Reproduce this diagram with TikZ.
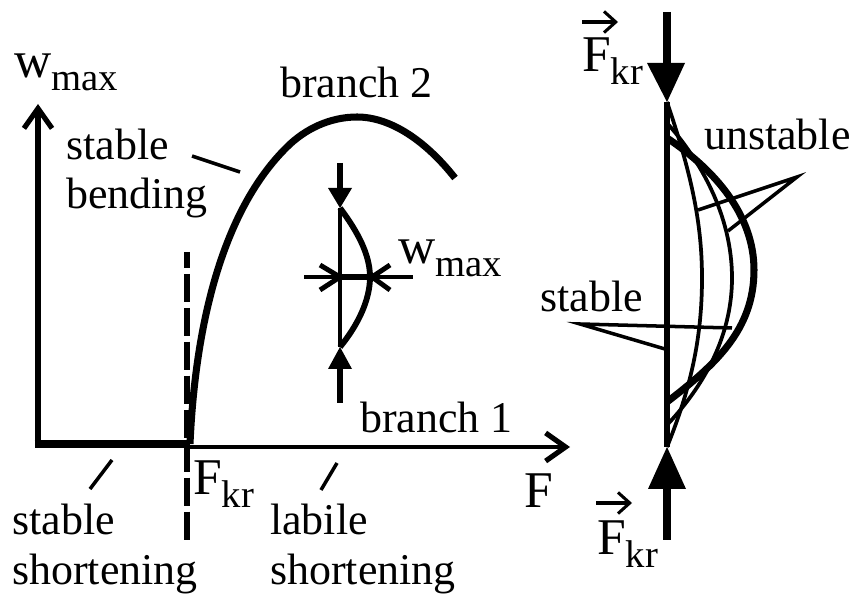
\documentclass[tikz,border=0pt]{standalone}
\usepackage{xcolor}
\usepackage{fontspec}
\setmainfont{Liberation Serif}
\usetikzlibrary{arrows.meta}
\newcommand{\lowtext}[1]{\raisebox{-11pt}{\fontsize{33}{33}\selectfont #1}}
\newcommand{\bigsym}[1]{{\fontsize{44}{44}\selectfont #1}}
\tikzset{
  lbl/.style={anchor=base west, inner sep=0pt, font=\fontsize{37.5}{37.5}\selectfont},
  leader/.style={line width=3pt},
  barb/.style={-{Straight Barb[length=17pt,width=24pt,line width=4.4pt]}},
  vecbarb/.style={line width=2.6pt, -{Straight Barb[length=10pt,width=18pt,line width=2.6pt]}},
  headtip/.style={fill=black, draw=none}
}

\begin{document}
\begin{tikzpicture}[x=0.03cm, y=-0.03cm]
  \useasboundingbox (0,0) rectangle (854,596);
  % axes
  \coordinate (origin) at (38,444);
  \coordinate (wtop) at (38,104);
  \coordinate (krpt) at (190,444);
  \coordinate (ftail) at (190,447);
  \coordinate (ftip) at (570,447);
  \draw[line width=4.6pt, barb] (origin) -- (wtop);
  \draw[line width=6pt] (34.5,444) -- (krpt);
  \draw[line width=4.2pt, barb] (ftail) -- (ftip);
  \coordinate (dashtop) at (187,252);
  \coordinate (dashbot) at (187,541);
  \draw[line width=5pt, dash pattern=on 24pt off 5pt, dash phase=10.4pt] (dashtop) -- (dashbot);
  % branch 2
  \draw[line width=6pt] (krpt) .. controls (196,310) and (228,205) .. (287,147)
    .. controls (305,129) and (330,117) .. (357,117)
    .. controls (390,117) and (425,140) .. (455,178);
  % leaders
  \coordinate (ba) at (192,156);
  \coordinate (bb) at (240,172);
  \draw[leader] (ba) -- (bb);
  \coordinate (sa) at (112,460);
  \coordinate (sb) at (90,489);
  \draw[leader] (sa) -- (sb);
  \coordinate (la) at (337,463);
  \coordinate (lb) at (321,490);
  \draw[leader] (la) -- (lb);
  % small column
  \coordinate (ctop) at (340,163);
  \coordinate (cupper) at (340,208);
  \coordinate (clower) at (340,347);
  \coordinate (cbot) at (340,403);
  \draw[line width=4.6pt] (ctop) -- (340,190);
  \draw[line width=3.4pt] (cupper) -- (clower);
  \draw[line width=4.6pt] (340,365) -- (cbot);
  \fill[headtip] (328,188) -- (352,188) -- (cupper) -- cycle;
  \fill[headtip] (328,369) -- (352,369) -- (clower) -- cycle;
  \draw[line width=5pt] (cupper) .. controls (358,232) and (370,255) .. (370,277)
    .. controls (370,300) and (358,325) .. (clower);
  \coordinate (wleft) at (304,277);
  \coordinate (wright) at (413,277);
  \coordinate (wa) at (340,277);
  \coordinate (wb) at (372,277);
  \draw[line width=3pt] (wleft) -- (wright);
  \draw[line width=5pt] (wa) -- (wb);
  \draw[line width=4.2pt] (320,265) -- (wa) -- (320,290);
  \draw[line width=4.2pt] (390,265) -- (wb) -- (390,290);
  % right column
  \coordinate (rtop) at (667,12);
  \coordinate (rupper) at (667,102);
  \coordinate (rlower) at (667,447);
  \coordinate (rbot) at (667,540);
  \draw[line width=6.4pt] (rtop) -- (667,70);
  \draw[line width=4.6pt] (rupper) -- (rlower);
  \draw[line width=6.4pt] (667,485) -- (rbot);
  \fill[headtip] (647,63) -- (685,63) -- (rupper) -- cycle;
  \fill[headtip] (648,489) -- (686,489) -- (rlower) -- cycle;
  \draw[line width=3.2pt] (rupper) .. controls (690,170) and (702,220) .. (702,278)
    .. controls (702,340) and (690,390) .. (rlower);
  \draw[line width=3.2pt] (667,123) .. controls (700,160) and (732,215) .. (732,278)
    .. controls (732,340) and (700,390) .. (667,425);
  \draw[line width=6pt] (667,138) .. controls (715,170) and (754,215) .. (754,270)
    .. controls (754,330) and (715,365) .. (667,402);
  \coordinate (ua) at (797,177);
  \coordinate (ub) at (698,210);
  \coordinate (uc) at (728,231);
  \draw[leader] (ub) -- (ua) -- (uc);
  \coordinate (ta) at (580,324);
  \coordinate (tb) at (732,328);
  \coordinate (tc) at (665,349);
  \draw[leader] (tb) -- (ta) -- (tc);
  % vector arrows
  \coordinate (va) at (582,22);
  \coordinate (vb) at (618,22);
  \draw[vecbarb] (va) -- (vb);
  \coordinate (vc) at (596,503);
  \coordinate (vd) at (632,503);
  \draw[vecbarb] (vc) -- (vd);
  % labels
  \node[lbl] (wmaxa) at (14,78) {\bigsym{w}\lowtext{max}};
  \node[lbl] (branchb) at (280,98) {branch 2};
  \node[lbl] (stablea) at (66,160) {stable};
  \node[lbl] (bending) at (66,209) {bending};
  \node[lbl] (wmaxb) at (398,264) {\bigsym{w}\lowtext{max}};
  \node[lbl] (brancha) at (360,433) {branch 1};
  \node[lbl] (fkr) at (193,495) {\bigsym{F}\lowtext{kr}};
  \node[lbl] (force) at (524,508) {\bigsym{F}};
  \node[lbl] (stableb) at (12,535) {stable};
  \node[lbl] (shorta) at (12,585) {shortening};
  \node[lbl] (labile) at (270,535) {labile};
  \node[lbl] (shortb) at (270,585) {shortening};
  \node[lbl] (fkrtop) at (582,72) {\bigsym{F}\lowtext{kr}};
  \node[lbl] (unstable) at (704,150) {unstable};
  \node[lbl] (stablec) at (540,312) {stable};
  \node[lbl] (fkrbot) at (597,555) {\bigsym{F}\lowtext{kr}};
\end{tikzpicture}
\end{document}
